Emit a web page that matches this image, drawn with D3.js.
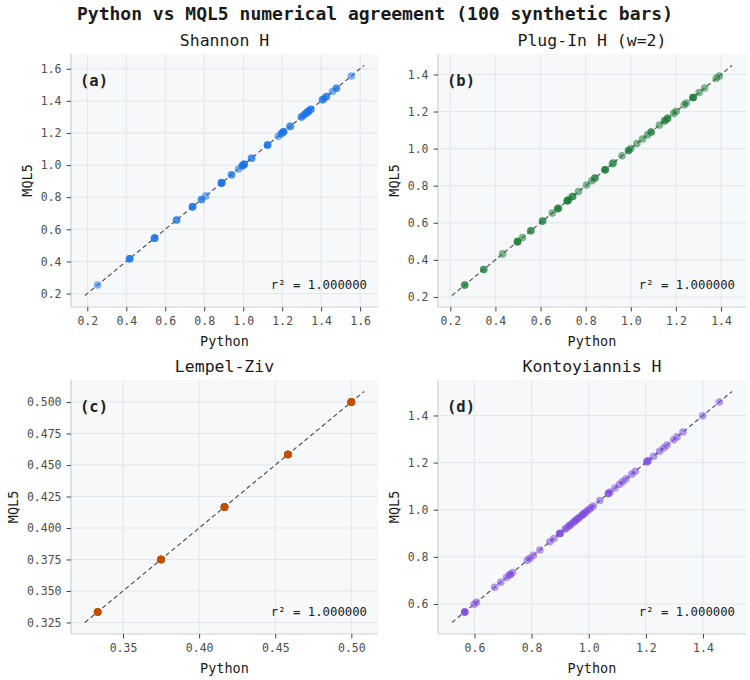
<!DOCTYPE html>
<html lang="en">
<head>
<meta charset="utf-8">
<title>Python vs MQL5 numerical agreement</title>
<script src="https://cdn.jsdelivr.net/npm/d3@7"></script>
<style>
  body { margin: 0; background: #ffffff; }
  text { font-family: "DejaVu Sans Mono", monospace; }
</style>
</head>
<body>
<script>
// Python-side values (MQL5 values agree exactly, r^2 = 1)
var pyShannon = [0.253, 0.417, 0.417, 0.417, 0.545, 0.545, 0.545, 0.658, 0.658,
  0.740, 0.740, 0.740, 0.786, 0.786, 0.808, 0.889, 0.889, 0.889, 0.889, 0.940, 0.940,
  0.976, 0.996, 0.996, 0.996, 1.005, 1.005, 1.005, 1.043, 1.043, 1.125, 1.125, 1.125,
  1.180, 1.196, 1.196, 1.207, 1.207, 1.207, 1.241, 1.241, 1.299, 1.299, 1.313, 1.313,
  1.325, 1.325, 1.335, 1.335, 1.335, 1.347, 1.347, 1.407, 1.407, 1.415, 1.427, 1.427,
  1.458, 1.478, 1.478, 1.555];
var mqlShannon = pyShannon.slice();

var pyPlugIn = [0.264, 0.264, 0.348, 0.348, 0.432, 0.498, 0.498, 0.498, 0.520, 0.557,
  0.557, 0.609, 0.609, 0.652, 0.676, 0.676, 0.680, 0.719, 0.719, 0.719, 0.726, 0.742,
  0.742, 0.768, 0.804, 0.827, 0.841, 0.841, 0.886, 0.886, 0.886, 0.918, 0.923, 0.961,
  0.990, 0.990, 1.000, 1.027, 1.052, 1.074, 1.090, 1.090, 1.127, 1.150, 1.150, 1.163,
  1.163, 1.190, 1.201, 1.237, 1.246, 1.276, 1.276, 1.276, 1.303, 1.327, 1.379, 1.392];
var mqlPlugIn = pyPlugIn.slice();

var pyLempel = [0.333333, 0.333333, 0.333333, 0.333333, 0.333333, 0.333333, 0.333333, 0.333333,
  0.375, 0.375, 0.375, 0.375, 0.375, 0.375, 0.375, 0.375, 0.375, 0.375,
  0.416667, 0.416667, 0.416667, 0.416667, 0.416667, 0.416667, 0.416667, 0.416667, 0.416667,
  0.458333, 0.458333, 0.458333, 0.458333, 0.458333, 0.458333, 0.458333, 0.458333,
  0.5, 0.5, 0.5, 0.5, 0.5, 0.5, 0.5, 0.5, 0.5, 0.5];
var mqlLempel = pyLempel.slice();

var pyKonto = [0.566, 0.566, 0.566, 0.599, 0.607, 0.671, 0.692, 0.712, 0.724, 0.724,
  0.733, 0.785, 0.794, 0.806, 0.829, 0.864, 0.878, 0.899, 0.899, 0.899, 0.917, 0.922,
  0.931, 0.934, 0.941, 0.948, 0.951, 0.957, 0.962, 0.966, 0.973, 0.979, 0.982, 0.988,
  0.994, 1.001, 1.008, 1.016, 1.039, 1.069, 1.069, 1.075, 1.092, 1.108, 1.119, 1.131,
  1.151, 1.163, 1.204, 1.204, 1.209, 1.227, 1.248, 1.262, 1.274, 1.297, 1.309, 1.330,
  1.399, 1.457];
var mqlKonto = pyKonto.slice();

// panel titles, tags and tick labels
var titles = ["Shannon H", "Plug-In H (w=2)", "Lempel-Ziv", "Kontoyiannis H"];
var tags = ["(a)", "(b)", "(c)", "(d)"];
var r2Labels = ["r\u00b2 = 1.000000", "r\u00b2 = 1.000000", "r\u00b2 = 1.000000", "r\u00b2 = 1.000000"];
var xTicksA = [0.2, 0.4, 0.6, 0.8, 1.0, 1.2, 1.4, 1.6];
var yTicksA = [0.2, 0.4, 0.6, 0.8, 1.0, 1.2, 1.4, 1.6];
var xTicksB = [0.2, 0.4, 0.6, 0.8, 1.0, 1.2, 1.4];
var yTicksB = [0.2, 0.4, 0.6, 0.8, 1.0, 1.2, 1.4];
var xTicksC = [0.35, 0.40, 0.45, 0.50];
var yTicksC = [0.325, 0.350, 0.375, 0.400, 0.425, 0.450, 0.475, 0.500];
var xTicksD = [0.6, 0.8, 1.0, 1.2, 1.4];
var yTicksD = [0.6, 0.8, 1.0, 1.2, 1.4];

var w = 750, h = 680;

var panels = [
  { x: pyShannon, y: mqlShannon, color: "#1a73e8", xt: xTicksA, yt: yTicksA, xf: ".1f", yf: ".1f",
    box: [71, 54, 378, 307] },
  { x: pyPlugIn, y: mqlPlugIn, color: "#1a7a35", xt: xTicksB, yt: yTicksB, xf: ".1f", yf: ".1f",
    box: [438, 54, 746, 307] },
  { x: pyLempel, y: mqlLempel, color: "#c24e00", xt: xTicksC, yt: yTicksC, xf: ".2f", yf: ".3f",
    box: [71, 380, 378, 634] },
  { x: pyKonto, y: mqlKonto, color: "#7c47de", xt: xTicksD, yt: yTicksD, xf: ".1f", yf: ".1f",
    box: [438, 380, 746, 634] }
];

var svg = d3.select("body").append("svg")
  .attr("width", w)
  .attr("height", h);

svg.append("text")
  .attr("x", 375)
  .attr("y", 20)
  .attr("text-anchor", "middle")
  .attr("font-size", "18px")
  .attr("font-weight", "bold")
  .attr("fill", "#1a1a1a")
  .text("Python vs MQL5 numerical agreement (100 synthetic bars)");

panels.forEach(function(p, i) {
  var x0 = p.box[0], y0 = p.box[1], x1 = p.box[2], y1 = p.box[3];

  // identity line spans data range +-5%, axes add another 5% margin
  var lo = Math.min(d3.min(p.x), d3.min(p.y));
  var hi = Math.max(d3.max(p.x), d3.max(p.y));
  var pad = (hi - lo) * 0.05;
  var lineLo = lo - pad, lineHi = hi + pad;
  var m = (lineHi - lineLo) * 0.05;

  var xScale = d3.scaleLinear().domain([lineLo - m, lineHi + m]).range([x0, x1]);
  var yScale = d3.scaleLinear().domain([lineLo - m, lineHi + m]).range([y1, y0]);

  var g = svg.append("g");

  g.append("rect")
    .attr("x", x0).attr("y", y0)
    .attr("width", x1 - x0).attr("height", y1 - y0)
    .attr("fill", "#f6f8fa");

  // grid
  g.selectAll(".gx").data(p.xt).enter().append("line")
    .attr("x1", function(d) { return xScale(d); })
    .attr("x2", function(d) { return xScale(d); })
    .attr("y1", y0).attr("y2", y1)
    .attr("stroke", "#e1e5ea").attr("stroke-width", 0.9);
  g.selectAll(".gy").data(p.yt).enter().append("line")
    .attr("y1", function(d) { return yScale(d); })
    .attr("y2", function(d) { return yScale(d); })
    .attr("x1", x0).attr("x2", x1)
    .attr("stroke", "#e1e5ea").attr("stroke-width", 0.9);

  // axes
  var xAxis = g.append("g")
    .attr("transform", "translate(0," + y1 + ")")
    .call(d3.axisBottom(xScale).tickValues(p.xt).tickFormat(d3.format(p.xf))
      .tickSize(4.5).tickPadding(5));
  var yAxis = g.append("g")
    .attr("transform", "translate(" + x0 + ",0)")
    .call(d3.axisLeft(yScale).tickValues(p.yt).tickFormat(d3.format(p.yf))
      .tickSize(4.5).tickPadding(5));

  [xAxis, yAxis].forEach(function(a) {
    a.select(".domain").attr("stroke", "#c9d1db").attr("stroke-width", 1.2);
    a.selectAll(".tick line").attr("stroke", "#444").attr("stroke-width", 1);
    a.selectAll(".tick text")
      .attr("font-family", "DejaVu Sans Mono, monospace")
      .attr("font-size", "11.5px")
      .attr("fill", "#4d4d4d");
  });
  // spines run edge to edge
  xAxis.select(".domain").attr("d", "M" + x0 + ",0H" + x1);
  yAxis.select(".domain").attr("d", "M0," + y0 + "V" + y1);

  // identity line
  g.append("line")
    .attr("x1", xScale(lineLo)).attr("y1", yScale(lineLo))
    .attr("x2", xScale(lineHi)).attr("y2", yScale(lineHi))
    .attr("stroke", "#555")
    .attr("stroke-width", 1.2)
    .attr("stroke-dasharray", "4.5,3");

  // points
  g.selectAll("circle")
    .data(p.x)
    .enter()
    .append("circle")
    .attr("cx", function(d) { return xScale(d); })
    .attr("cy", function(d, j) { return yScale(p.y[j]); })
    .attr("r", 3.8)
    .attr("fill", p.color)
    .attr("fill-opacity", 0.55);

  // title and labels
  g.append("text")
    .attr("x", (x0 + x1) / 2)
    .attr("y", y0 - 8)
    .attr("text-anchor", "middle")
    .attr("font-size", "16.5px")
    .attr("fill", "#1a1a1a")
    .text(titles[i]);

  g.append("text")
    .attr("x", (x0 + x1) / 2)
    .attr("y", y1 + 39)
    .attr("text-anchor", "middle")
    .attr("font-size", "13.5px")
    .attr("fill", "#1a1a1a")
    .text("Python");

  var yb = yAxis.node().getBBox();
  g.append("text")
    .attr("transform", "translate(" + (x0 + yb.x - 9) + "," + ((y0 + y1) / 2) + ") rotate(-90)")
    .attr("text-anchor", "middle")
    .attr("font-size", "13.5px")
    .attr("fill", "#1a1a1a")
    .text("MQL5");

  g.append("text")
    .attr("x", x0 + 9)
    .attr("y", y0 + 32)
    .attr("font-size", "15.5px")
    .attr("font-weight", "bold")
    .attr("fill", "#222")
    .text(tags[i]);

  g.append("text")
    .attr("x", x1 - 11)
    .attr("y", y1 - 18)
    .attr("text-anchor", "end")
    .attr("font-size", "12.3px")
    .attr("fill", "#1a1a1a")
    .text(r2Labels[i]);
});
</script>
</body>
</html>
